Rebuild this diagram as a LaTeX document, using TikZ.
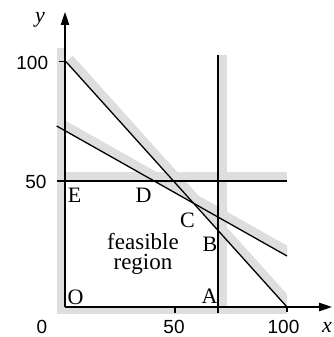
\documentclass[tikz,border=0pt]{standalone}
\usepackage{fontspec}
\setmainfont{Liberation Serif}
\newfontfamily\digitfont{Liberation Sans}
\usetikzlibrary{arrows.meta}
\begin{document}
\begin{tikzpicture}[x=1pt,y=-1pt,
  band/.style={fill=black!13,draw=none},
  lineseg/.style={draw=black,line width=1.3pt},
  axisline/.style={draw=black,line width=1.2pt,-{Triangle[length=13pt,width=8.5pt]}},
  tickmark/.style={draw=black,line width=1.1pt},
  ticklab/.style={font=\digitfont\fontsize{19}{19}\selectfont,inner sep=0pt},
  ptlab/.style={font=\fontsize{22}{22}\selectfont,inner sep=0pt,anchor=base},
  axlab/.style={font=\itshape\fontsize{22}{22}\selectfont,inner sep=0pt,anchor=base}]
\useasboundingbox (0,0) rectangle (334,337);
% shaded bands (infeasible sides)
\fill[band] (57,48) rectangle (65,314);
\fill[band] (57,307) rectangle (287,314);
\fill[band] (57,171.7) rectangle (287,181);
\fill[band] (218.7,55) rectangle (227,314);
\fill[band] (66,61.7) -- (72.7,55.7) -- (287,294.2) -- (287,307.7) -- cycle;
\fill[band] (56.7,126) -- (61.1,118.2) -- (287,245.6) -- (287,256) -- cycle;
% coordinates
\coordinate (O) at (65,307);
\coordinate (ytop) at (65,12);
\coordinate (xend) at (332,307);
\coordinate (l1a) at (66,61.7);
\coordinate (l1b) at (287,307);
\coordinate (l2a) at (56.7,126);
\coordinate (l2b) at (287,256);
\coordinate (ha) at (57,181);
\coordinate (hb) at (287,181);
\coordinate (va) at (218,55);
\coordinate (vb) at (218,313);
\coordinate (t100a) at (59,61.7);
\coordinate (t100b) at (65,61.7);
\coordinate (t50a) at (175,307);
\coordinate (t50b) at (175,313);
\coordinate (tx100a) at (287,307);
\coordinate (tx100b) at (287,312);
% constraint lines
\draw[lineseg] (l1a) -- (l1b);
\draw[lineseg] (l2a) -- (l2b);
\draw[lineseg] (ha) -- (hb);
\draw[lineseg] (va) -- (vb);
% axes
\draw[axisline] (O) -- (ytop);
\draw[axisline] (O) -- (xend);
\draw[tickmark] (t100a) -- (t100b);
\draw[tickmark] (t50a) -- (t50b);
\draw[tickmark] (tx100a) -- (tx100b);
% tick labels
\node[ticklab,anchor=base east] (ly100) at (48.3,69.5) {100};
\node[ticklab,anchor=base east] (ly50) at (46.7,188.3) {50};
\node[ticklab,anchor=base] (lx0) at (42,333.5) {0};
\node[ticklab,anchor=base] (lx50) at (174,333.5) {50};
\node[ticklab,anchor=base] (lx100) at (283.5,333.5) {100};
\node[axlab] (ylab) at (40,23) {y};
\node[axlab] (xlab) at (327,332.5) {x};
% point labels
\node[ptlab] (E) at (74.5,202) {E};
\node[ptlab] (D) at (143.5,202) {D};
\node[ptlab] (C) at (187.5,227.5) {C};
\node[ptlab] (B) at (210,251.7) {B};
\node[ptlab] (A) at (209.5,303.3) {A};
\node[ptlab] (Opt) at (75.5,304.5) {O};
\node[font=\fontsize{23}{20.5}\selectfont,align=center,inner sep=0pt] (feas) at (143,254) {feasible\\region};
\end{tikzpicture}
\end{document}
